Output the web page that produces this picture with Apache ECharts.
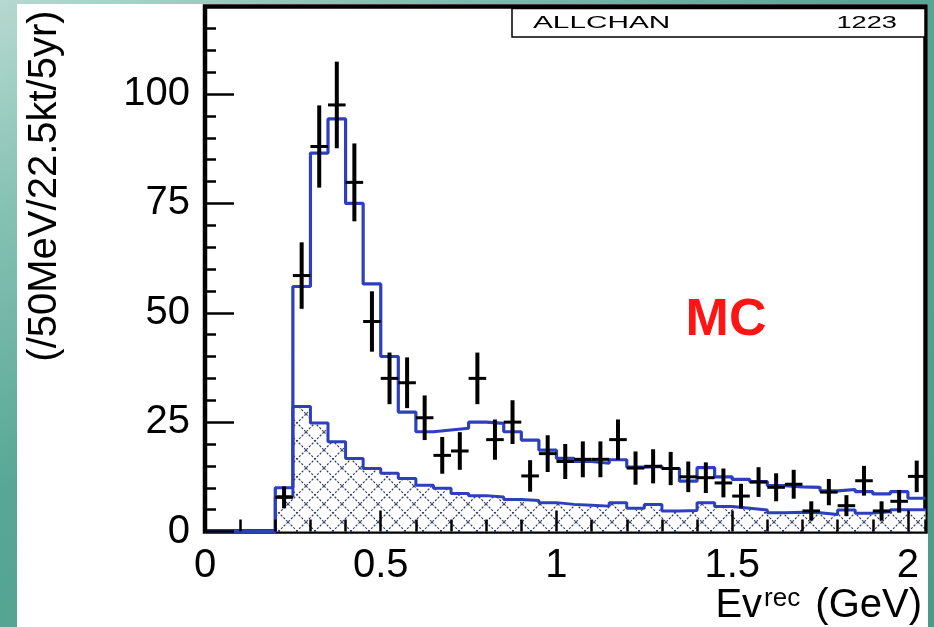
<!DOCTYPE html>
<html>
<head>
<meta charset="utf-8">
<script src="https://cdn.jsdelivr.net/npm/echarts@6/dist/echarts.min.js"></script>
<style>
  html, body { margin:0; padding:0; }
  body { width:934px; height:627px; overflow:hidden; position:relative;
    background: linear-gradient(150deg, #b6d9d0 0%, #86c2b4 18%, #58a796 42%, #4a9c89 100%); }
  #white { position:absolute; left:17px; top:4px; width:911px; height:623px; background:#fff; }
  #chart { position:absolute; left:0; top:0; width:934px; height:627px; }
</style>
</head>
<body>
<div id="white"></div>
<div id="chart"></div>
<script>
// ---- data ----
const binLow = [0.00,0.05,0.10,0.15,0.20,0.25,0.30,0.35,0.40,0.45,0.50,0.55,0.60,0.65,0.70,0.75,0.80,0.85,0.90,0.95,
                1.00,1.05,1.10,1.15,1.20,1.25,1.30,1.35,1.40,1.45,1.50,1.55,1.60,1.65,1.70,1.75,1.80,1.85,1.90,1.95,2.00];
const binWidth = 0.05;
const xMax = 2.05;
const yMax = 120;
const totalMC = [0,0,0,0,10,56,86.5,94.3,75,56.6,40,27.3,22.8,23.2,23.6,25,24.7,22.8,20.9,18.6,
                 16.7,16,15.6,16.4,14.7,14.9,14.4,11.5,14.6,12.5,11.9,11.4,10.5,10.2,10.1,9.3,9.6,9.1,8.6,9.1,7.6];
const background = [0,0,0,0,8,28.6,24.8,20.5,16.7,14.4,13.3,12.1,10.6,9.9,8.7,8.2,7.9,7.3,7.1,6.6,
                    6.2,6.0,5.8,6.6,5.3,6.2,4.7,4.8,6.6,5.7,5.3,4.9,4.3,4.4,4.3,3.9,4.9,4.2,4.5,5.0,5.0];
const dataVal = [null,null,null,null,7.8,58.5,88,97.5,79.8,48,35,34,26,17.4,18.4,35,21,25,12.7,17.8,
                 16,16.5,16.5,21,14.5,14.9,14.4,12.5,12.3,11.1,8.1,11.3,10.1,10.8,4.7,9,5.9,11.6,4.7,6.9,12.6];
const dataErr = [null,null,null,null,2.5,7.6,9.4,9.9,8.9,6.9,5.9,5.8,5.1,4.2,4.3,5.9,4.6,5,3.6,4.2,
                 4,4.1,4.1,4.6,3.8,3.9,3.8,3.5,3.5,3.3,2.8,3.4,3.2,3.3,2.2,3,2.4,3.4,2.2,2.6,3.6];
const xTickLabels = ['0','0.5','1','1.5','2'];
const yTickLabels = ['0','25','50','75','100'];
const yTitle = '(/50MeV/22.5kt/5yr)';
const boxLabel = 'ALLCHAN';
const boxNumber = '1223';
const mcLabel = 'MC';

// ---- build ----
function stepData(vals) {
  const d = binLow.map((x, i) => [x, vals[i]]);
  d.push([xMax, vals[vals.length - 1]]);
  return d;
}
const points = [];
binLow.forEach((x, i) => {
  if (dataVal[i] !== null) points.push([x, x + binWidth, dataVal[i], dataErr[i]]);
});

// cross-hatch pattern
const T = 18;
const pat = document.createElement('canvas');
pat.width = T; pat.height = T;
const pc = pat.getContext('2d');
pc.fillStyle = '#ffffff';
pc.fillRect(0, 0, T, T);
pc.strokeStyle = '#2c3763';
pc.lineWidth = 1.1;
pc.setLineDash([2.2, 1.6]);
pc.beginPath();
pc.moveTo(0, 0); pc.lineTo(T, T);
pc.moveTo(T, 0); pc.lineTo(0, T);
pc.stroke();

const FONT = '"Liberation Sans", Arial, Helvetica, sans-serif';
const BLUE = '#2d3fbf';

const chart = echarts.init(document.getElementById('chart'), null, { renderer: 'canvas' });
chart.setOption({
  backgroundColor: 'transparent',
  animation: false,
  grid: { left: 205, right: 8.5, top: 6.5, bottom: 95.5, show: true,
          borderColor: '#000', borderWidth: 4.5, backgroundColor: 'transparent' },
  xAxis: [
    { type: 'value', min: 0, max: xMax, interval: 0.5, position: 'bottom', zlevel: 1, z: 5,
      axisLine: { show: false },
      axisTick: { show: true, inside: true, length: 21, lineStyle: { color: '#000', width: 2.5 } },
      axisLabel: { show: true, color: '#000', fontSize: 40, fontFamily: FONT, margin: 14,
                   showMaxLabel: false,
                   formatter: v => { const i = Math.round(v / 0.5); return xTickLabels[i] !== undefined && Math.abs(v - i * 0.5) < 1e-6 ? xTickLabels[i] : ''; } },
      splitLine: { show: false } },
    { type: 'value', min: 0, max: xMax, interval: 0.1, position: 'bottom', zlevel: 1, z: 5,
      axisLine: { show: false },
      axisTick: { show: true, inside: true, length: 12, lineStyle: { color: '#000', width: 2.5 } },
      axisLabel: { show: false }, splitLine: { show: false } }
  ],
  yAxis: [
    { type: 'value', min: 0, max: yMax, interval: 25, position: 'left', zlevel: 1, z: 5,
      axisLine: { show: false },
      axisTick: { show: true, inside: true, length: 29, lineStyle: { color: '#000', width: 2.5 } },
      axisLabel: { show: true, color: '#000', fontSize: 40, fontFamily: FONT, margin: 15,
                   showMaxLabel: false,
                   formatter: v => { const i = Math.round(v / 25); return yTickLabels[i] !== undefined && Math.abs(v - i * 25) < 1e-6 ? yTickLabels[i] : ''; } },
      splitLine: { show: false } },
    { type: 'value', min: 0, max: yMax, interval: 5, position: 'left', zlevel: 1, z: 5,
      axisLine: { show: false },
      axisTick: { show: true, inside: true, length: 11, lineStyle: { color: '#000', width: 2.5 } },
      axisLabel: { show: false }, splitLine: { show: false } }
  ],
  series: [
    { name: 'background', type: 'line', step: 'end', symbol: 'none', xAxisIndex: 0, yAxisIndex: 0,
      data: stepData(background), z: 2,
      lineStyle: { color: BLUE, width: 3 },
      areaStyle: { color: { image: pat, repeat: 'repeat' }, opacity: 1 } },
    { name: 'total', type: 'line', step: 'end', symbol: 'none', xAxisIndex: 0, yAxisIndex: 0,
      data: stepData(totalMC), z: 3,
      lineStyle: { color: BLUE, width: 3.2 } },
    { name: 'data', type: 'custom', xAxisIndex: 0, yAxisIndex: 0, z: 4,
      data: points,
      renderItem: (params, api) => {
        const x0 = api.value(0), x1 = api.value(1), v = api.value(2), e = api.value(3);
        const xc = (x0 + x1) / 2;
        const pL = api.coord([x0, v]), pR = api.coord([x1, v]);
        const pT = api.coord([xc, v + e]), pB = api.coord([xc, Math.max(0, v - e)]);
        return { type: 'group', children: [
          { type: 'line', shape: { x1: pL[0], y1: pL[1], x2: pR[0], y2: pR[1] }, style: { stroke: '#000', lineWidth: 3 } },
          { type: 'line', shape: { x1: pT[0], y1: pT[1], x2: pB[0], y2: pB[1] }, style: { stroke: '#000', lineWidth: 4 } }
        ] };
      } }
  ],
  graphic: [
    { type: 'text', x: 45, y: 186, rotation: Math.PI / 2, z: 10,
      style: { text: yTitle, fontSize: 40, fontFamily: FONT, fill: '#000', align: 'center', verticalAlign: 'middle' } },
    { type: 'text', x: 922, y: 606, z: 10,
      style: { text: '{m|Ev}{s|rec}{m| (GeV)}', align: 'right', verticalAlign: 'middle', fill: '#000',
               rich: { m: { fontSize: 40, fontFamily: FONT, fill: '#000' },
                       s: { fontSize: 26, fontFamily: FONT, fill: '#000', verticalAlign: 'top', padding: [0, 4, 0, 2] } } } },
    { type: 'rect', z: 10, shape: { x: 512, y: 8.5, width: 413, height: 28.5 },
      style: { fill: '#fff', stroke: '#000', lineWidth: 1.5 } },
    { type: 'text', x: 533, y: 23, scaleX: 1.75, z: 11,
      style: { text: boxLabel, fontSize: 17, fontFamily: FONT, fill: '#000', align: 'left', verticalAlign: 'middle' } },
    { type: 'text', x: 897, y: 23, scaleX: 1.6, z: 11,
      style: { text: boxNumber, fontSize: 17, fontFamily: FONT, fill: '#000', align: 'right', verticalAlign: 'middle' } },
    { type: 'text', x: 726, y: 321, z: 10,
      style: { text: mcLabel, fontSize: 52, fontWeight: 'bold', fontFamily: FONT, fill: '#ff1414', align: 'center', verticalAlign: 'middle' } }
  ]
});
</script>
</body>
</html>
